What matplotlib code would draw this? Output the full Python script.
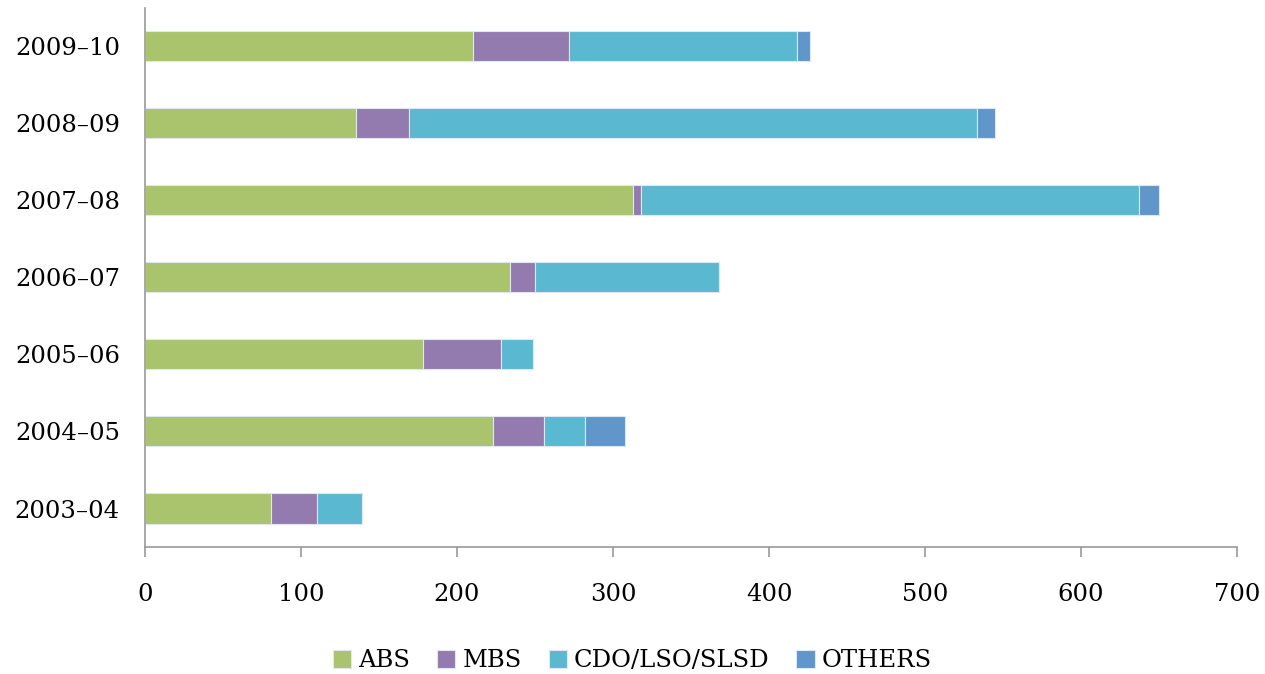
import numpy as np
import matplotlib.pyplot as plt

years = ['2003–04', '2004–05', '2005–06', '2006–07', '2007–08', '2008–09', '2009–10']
abs_vals = [81, 223, 178, 234, 313, 135, 210]
mbs_vals = [29, 33, 50, 16, 5, 34, 62]
cdo_vals = [29, 26, 21, 118, 319, 364, 146]
others_vals = [0, 26, 0, 0, 13, 12, 8]
series = ['ABS', 'MBS', 'CDO/LSO/SLSD', 'OTHERS']
colors = ['#AAC46D', '#947BAF', '#5BB8D1', '#6096C9']

plt.rcParams['font.family'] = ['DejaVu Serif']

fig = plt.figure(figsize=(12.65, 6.74), dpi=100)
ax = fig.add_axes([0.1146, 0.1884, 0.8633, 0.80])

y = np.arange(len(years))
left = np.zeros(len(years))
for name, vals, c in zip(series, [abs_vals, mbs_vals, cdo_vals, others_vals], colors):
    ax.barh(y, vals, left=left, height=0.39, color=c, edgecolor='#dde8f0', linewidth=0.8, label=name)
    left += np.array(vals)

ax.set_xlim(0, 700)
ax.set_ylim(-0.5, 6.5)
ax.set_yticks(y)
ax.set_yticklabels(years, fontsize=17.5)
ax.set_xticks(range(0, 701, 100))
ax.tick_params(axis='x', labelsize=17.5, length=7, color='#999999', width=1.2, pad=19)
ax.tick_params(axis='y', length=0, pad=18)
for s in ['top', 'right']:
    ax.spines[s].set_visible(False)
for s in ['left', 'bottom']:
    ax.spines[s].set_color('#999999')
    ax.spines[s].set_linewidth(1.2)

fig.legend(loc='lower center', bbox_to_anchor=(0.5, -0.03), ncol=4, frameon=False,
           fontsize=17.5, handlelength=0.75, handleheight=0.75, handletextpad=0.3, columnspacing=1.1)

fig.savefig('out.png', dpi=100)
